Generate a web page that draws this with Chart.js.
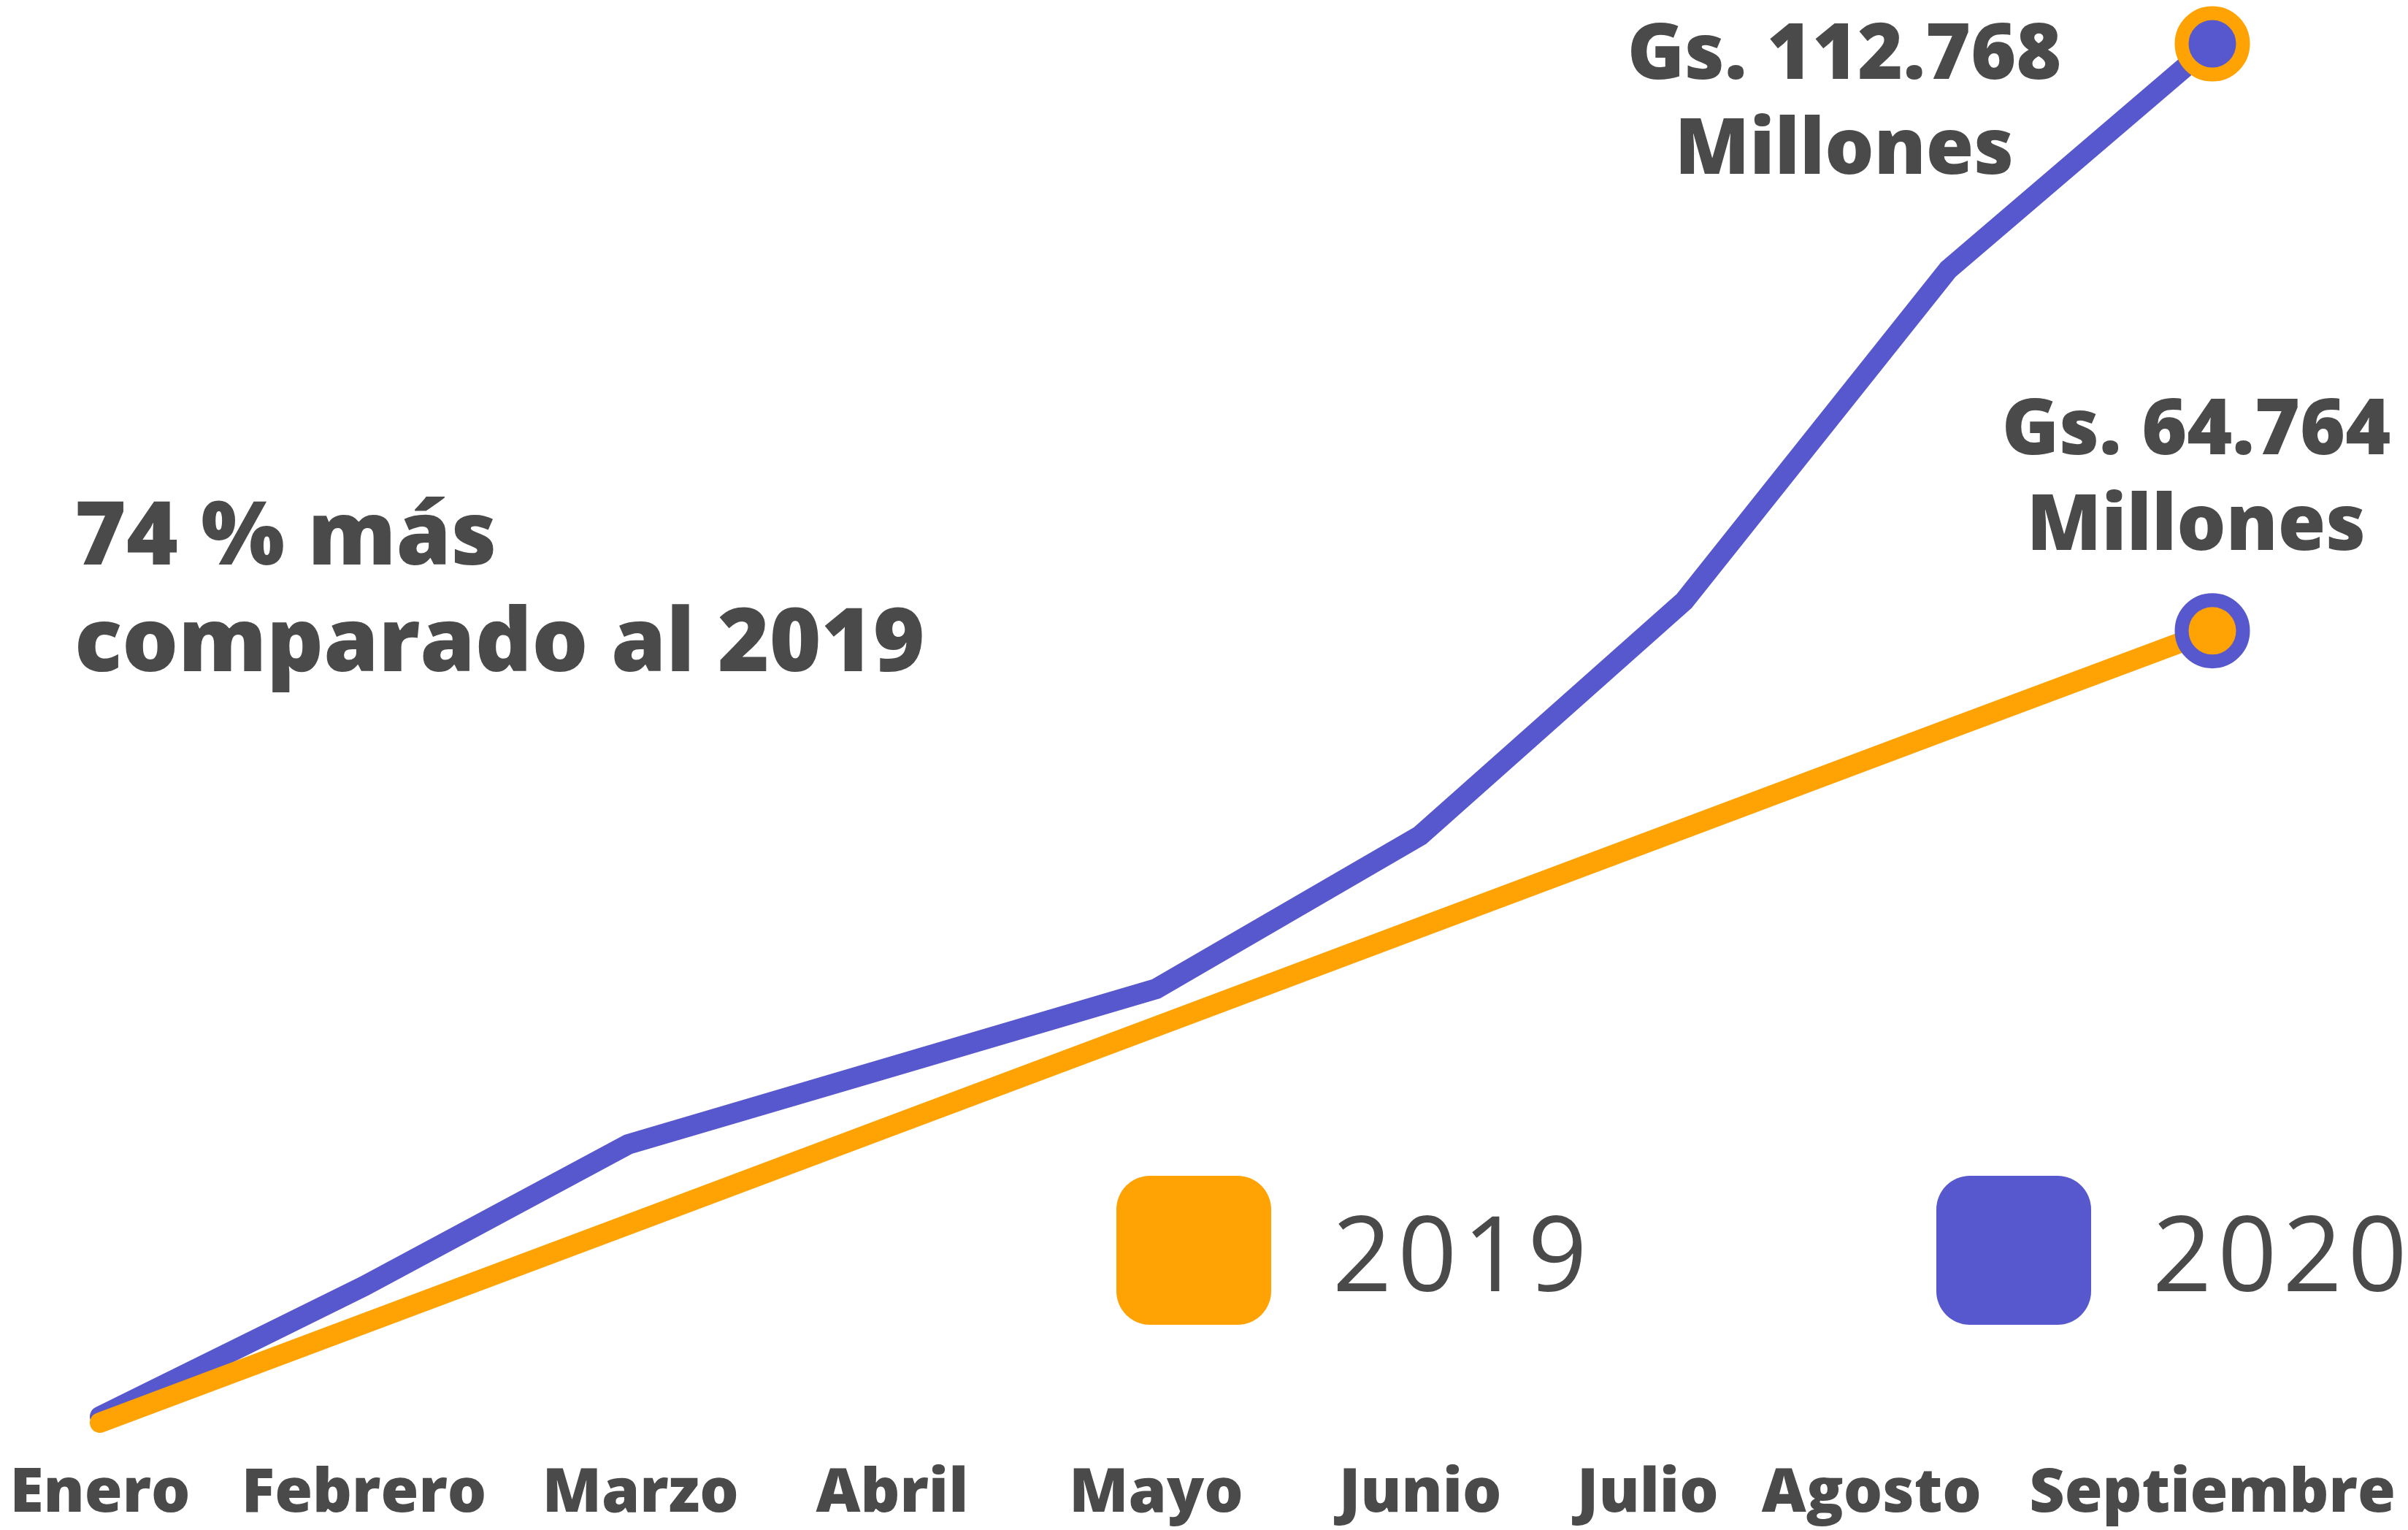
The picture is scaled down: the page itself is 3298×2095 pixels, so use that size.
<!DOCTYPE html>
<html>
<head>
  <title>Ventas 2019 vs 2020</title>
  <script src="https://cdn.jsdelivr.net/npm/chart.js"></script>
  <style>
    body { margin: 0; background: #fff; }
    canvas { display: block; }
  </style>
</head>
<body>
  <canvas id="ventasChart" width="3298" height="2095"></canvas>

  <script>
    // datos acumulados (millones de Gs.)
    const meses = ['Enero', 'Febrero', 'Marzo', 'Abril', 'Mayo', 'Junio', 'Julio', 'Agosto', 'Septiembre'];
    const ventas2019 = [0, 8100, 16200, 24300, 32400, 40500, 48600, 56700, 64764];
    const ventas2020 = [500, 11170, 22760, 29120, 35480, 48020, 67200, 94310, 112768];
    const anios = ['2019', '2020'];
    const totales = ['Gs. 64.764', 'Gs. 112.768'];
    const nota = ['74 % más', 'comparado al 2019'];

    const NARANJA = '#FFA305';
    const VIOLETA = '#5757CE';
    const GRIS = '#4a4a4a';
    const FUENTE = '"Open Sans", "Noto Sans", sans-serif';

    // solo el ultimo punto lleva circulo
    const soloUltimo = (n, r) => meses.map((m, i) => i === meses.length - 1 ? n : r);

    // en el original algunos meses estan corridos para que no se pisen
    const corrimiento = { Marzo: 17, Julio: -50, Agosto: -105 };

    const ajusteEtiquetas = {
      id: 'ajusteEtiquetas',
      beforeDraw(chart) {
        const escala = chart.scales.x;
        const items = escala.getLabelItems(chart.chartArea);
        if (items._ajustado) return;
        items.forEach(it => {
          const d = corrimiento[it.label] || 0;
          it.options.translation[0] += d;
        });
        items._ajustado = true;
      }
    };

    // textos y leyenda dibujados encima del grafico
    const extras = {
      id: 'extras',
      afterDraw(chart) {
        const ctx = chart.ctx;
        ctx.save();
        ctx.fillStyle = GRIS;
        ctx.textBaseline = 'alphabetic';

        // nota de la izquierda
        ctx.font = '800 121px ' + FUENTE;
        ctx.textAlign = 'left';
        ctx.fillText(nota[0], 102, 773);
        ctx.fillText(nota[1], 102, 919);

        // totales junto al ultimo punto
        const offsets = [
          { dx: -22, l1: -242, l2: -111 },
          { dx: -504, l1: 48, l2: 178 }
        ];
        ctx.font = '800 106px ' + FUENTE;
        ctx.textAlign = 'center';
        chart.data.datasets.forEach((ds, i) => {
          const pts = chart.getDatasetMeta(i).data;
          const p = pts[pts.length - 1];
          const o = offsets[i];
          ctx.fillText(totales[i], p.x + o.dx, p.y + o.l1);
          ctx.fillText('Millones', p.x + o.dx, p.y + o.l2);
        });

        // leyenda
        const cajas = [1529, 2652];
        ctx.font = '400 142px ' + FUENTE;
        ctx.letterSpacing = '8px';
        ctx.textAlign = 'left';
        ctx.textBaseline = 'middle';
        chart.data.datasets.forEach((ds, i) => {
          ctx.fillStyle = ds.borderColor;
          ctx.beginPath();
          ctx.roundRect(cajas[i], 1610, 212, 204, 46);
          ctx.fill();
          ctx.fillStyle = GRIS;
          ctx.fillText(ds.label, cajas[i] + 296, 1728);
        });
        ctx.restore();
      }
    };

    new Chart(document.getElementById('ventasChart'), {
      type: 'line',
      data: {
        labels: meses,
        datasets: [
          {
            label: anios[0],
            data: ventas2019,
            borderColor: NARANJA,
            borderWidth: 28,
            borderCapStyle: 'round',
            pointRadius: soloUltimo(42, 0),
            pointBackgroundColor: NARANJA,
            pointBorderColor: VIOLETA,
            pointBorderWidth: 19,
            pointHoverRadius: soloUltimo(42, 0),
            clip: false
          },
          {
            label: anios[1],
            data: ventas2020,
            borderColor: VIOLETA,
            borderWidth: 28,
            borderCapStyle: 'round',
            pointRadius: soloUltimo(42, 0),
            pointBackgroundColor: VIOLETA,
            pointBorderColor: NARANJA,
            pointBorderWidth: 19,
            pointHoverRadius: soloUltimo(42, 0),
            clip: false
          }
        ]
      },
      options: {
        responsive: false,
        animation: false,
        devicePixelRatio: 1,
        layout: { autoPadding: false, padding: { left: 137, right: 268, top: 60, bottom: 0 } },
        plugins: {
          legend: { display: false },
          tooltip: { enabled: false }
        },
        scales: {
          x: {
            offset: false,
            grid: { display: false, drawTicks: true, tickLength: 48 },
            border: { display: false },
            ticks: {
              color: GRIS,
              padding: 0,
              maxRotation: 0,
              autoSkip: false,
              font: { family: FUENTE, size: 84, weight: '800' }
            },
            afterFit(scale) { scale.height = 147; }
          },
          y: {
            display: false,
            min: 0,
            max: 112768
          }
        }
      },
      plugins: [ajusteEtiquetas, extras]
    });
  </script>
</body>
</html>
